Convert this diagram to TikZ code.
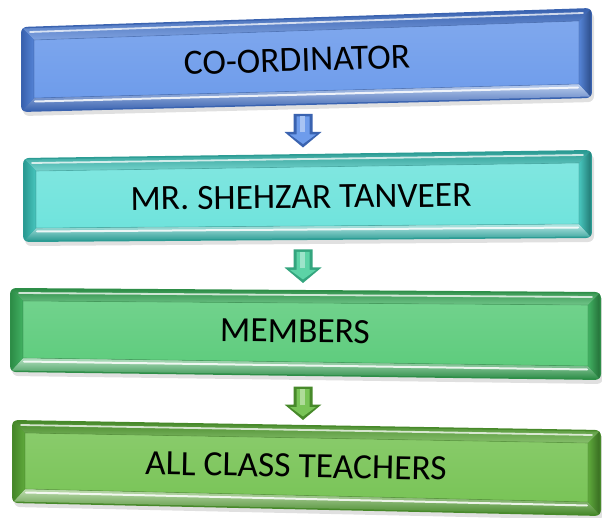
\documentclass[tikz,border=0pt]{standalone}
\usepackage{fontspec}
\setmainfont{Carlito}
\usetikzlibrary{calc}
\definecolor{bluface}{HTML}{6E9CEB}
\definecolor{blubev}{HTML}{5584D6}
\definecolor{bluedge}{HTML}{3A63B0}
\definecolor{teaface}{HTML}{6FE3DC}
\definecolor{teabev}{HTML}{48C6BE}
\definecolor{teaedge}{HTML}{2C9C94}
\definecolor{greface}{HTML}{5ECC7D}
\definecolor{grebev}{HTML}{42B263}
\definecolor{greedge}{HTML}{2E8E48}
\definecolor{ylgface}{HTML}{79C457}
\definecolor{ylgbev}{HTML}{5FAA3C}
\definecolor{ylgedge}{HTML}{47892A}
\definecolor{arrtwo}{HTML}{5CD3A6}
\definecolor{arrtwoedge}{HTML}{34A57E}
\tikzset{
  boxtext/.style={font=\fontsize{35.5pt}{40pt}\selectfont, text=black, inner sep=0pt},
  arrowbody/.style={line width=1pt, line join=round}
}
% #1 name, #2 tl, #3 tr, #4 br, #5 bl, #6 colour prefix, #7 text pos, #8 rotation, #9 text
\newcommand\bevbox[9]{%
  \coordinate (#1tl) at (#2); \coordinate (#1tr) at (#3);
  \coordinate (#1br) at (#4); \coordinate (#1bl) at (#5);
  \coordinate (#1itl) at ($(#1tl)+(13,13)$);
  \coordinate (#1itr) at ($(#1tr)+(-13,13)$);
  \coordinate (#1ibr) at ($(#1br)+(-13,-14)$);
  \coordinate (#1ibl) at ($(#1bl)+(13,-14)$);
  \fill[black!12, rounded corners=6] ($(#1tl)+(2,4)$) -- ($(#1tr)+(2,4)$) -- ($(#1br)+(2,4)$) -- ($(#1bl)+(2,4)$) -- cycle;
  \begin{scope}
    \clip[rounded corners=6] (#1tl) -- (#1tr) -- (#1br) -- (#1bl) -- cycle;
    \fill[#6edge] (#1tl) -- (#1tr) -- (#1br) -- (#1bl) -- cycle;
    \shade[top color=#6edge, bottom color=#6bev!75!white] ($(#1tl)+(1.5,1.5)$) -- ($(#1tr)+(-1.5,1.5)$) -- (#1itr) -- (#1itl) -- cycle;
    \shade[top color=#6bev!40!white, bottom color=#6edge] (#1ibl) -- (#1ibr) -- ($(#1br)+(-1.5,-1.5)$) -- ($(#1bl)+(1.5,-1.5)$) -- cycle;
    \shade[left color=#6edge, right color=#6bev] ($(#1tl)+(1.5,1.5)$) -- (#1itl) -- (#1ibl) -- ($(#1bl)+(1.5,-1.5)$) -- cycle;
    \shade[left color=#6bev, right color=#6edge!80!black] ($(#1tr)+(-1.5,1.5)$) -- (#1itr) -- (#1ibr) -- ($(#1br)+(-1.5,-1.5)$) -- cycle;
    \shade[top color=#6face!88!white, bottom color=#6face] (#1itl) -- (#1itr) -- (#1ibr) -- (#1ibl) -- cycle;
    \draw[white, opacity=.75, line width=1.8pt, line cap=round] ($(#1tl)+(9,5)$) -- ($(#1tr)+(-9,5)$);
    \draw[white, opacity=.85, line width=2pt, line cap=round] ($(#1ibl)+(1,3.5)$) -- ($(#1ibr)+(-1,3.5)$);
    \draw[#6edge!70!black, opacity=.35, line width=.6pt] (#1itl) -- (#1itr) -- (#1ibr) -- (#1ibl) -- cycle;
  \end{scope}
  \node[boxtext, rotate=#8] (#1) at (#7) {#9};
}
% #1 name, #2 centre, #3 fill, #4 edge
\newcommand\blockarr[4]{%
  \coordinate (#1) at (#2);
  \fill[#4, arrowbody] ($(#1)+(-9.5,-16.5)$) -- ($(#1)+(9.5,-16.5)$) -- ($(#1)+(9.5,1.5)$) -- ($(#1)+(18.5,1.5)$)
     -- ($(#1)+(0,17)$) -- ($(#1)+(-18.5,1.5)$) -- ($(#1)+(-9.5,1.5)$) -- cycle;
  \fill[#3] ($(#1)+(-6.5,-14)$) -- ($(#1)+(6.5,-14)$) -- ($(#1)+(6.5,4)$) -- ($(#1)+(13,4)$)
     -- ($(#1)+(0,13.5)$) -- ($(#1)+(-13,4)$) -- ($(#1)+(-6.5,4)$) -- cycle;
  \fill[#3!60!white] ($(#1)+(-3.5,-14)$) rectangle ($(#1)+(2,2)$);
}
\begin{document}
\begin{tikzpicture}[x=1pt, y=-1pt]
  \useasboundingbox (0,0) rectangle (602,518);
  \bevbox{coord}{21,27}{592,8}{592,98}{21,112}{blu}{297,60}{1.7}{CO-ORDINATOR}
  \bevbox{shehzar}{23,158}{592,150}{592,238}{23,242}{tea}{301,197}{0.6}{MR. SHEHZAR TANVEER}
  \bevbox{members}{10,288}{601,292}{601,380}{10,372}{gre}{295,331}{-0.6}{MEMBERS}
  \bevbox{teachers}{12,420}{601,430}{601,516}{12,503}{ylg}{296,466}{-1.1}{ALL CLASS TEACHERS}
  \blockarr{arr1}{303,130.5}{bluface}{bluedge}
  \blockarr{arr2}{303,266}{arrtwo}{arrtwoedge}
  \blockarr{arr3}{303,403}{ylgface}{ylgedge}
\end{tikzpicture}
\end{document}
